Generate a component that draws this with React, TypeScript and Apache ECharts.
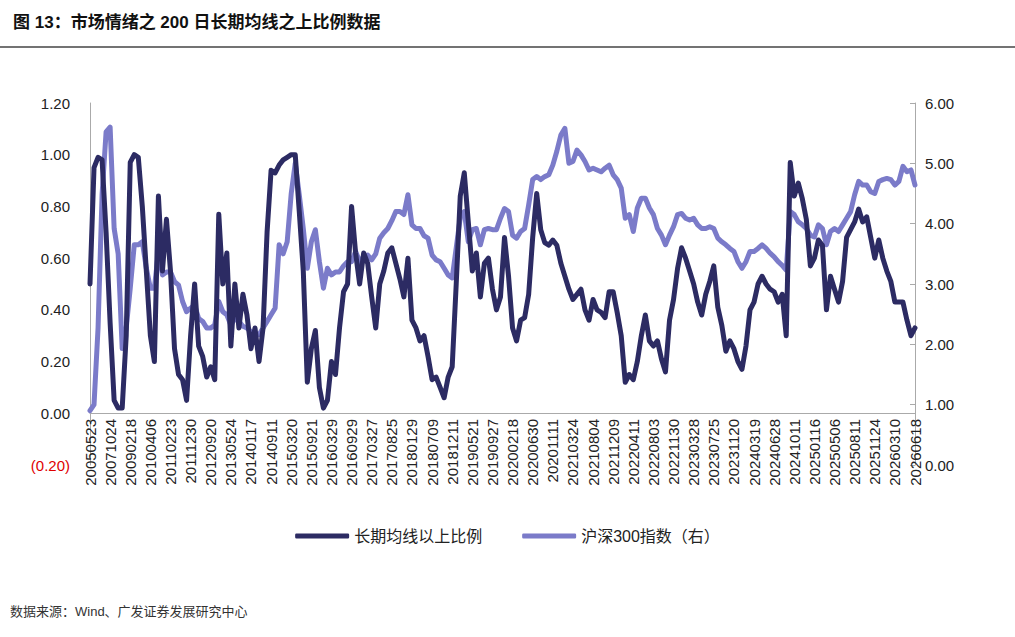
import React, { useEffect, useRef } from 'react';
import * as echarts from 'echarts';

// tick dates shown on the x axis, one every 5 points
const tickDates = [
  '20050523', '20071024', '20090218', '20100406', '20110223', '20111230', '20120920',
  '20130524', '20140117', '20140911', '20150320', '20150921', '20160329', '20160929',
  '20170327', '20170825', '20180129', '20180709', '20181211', '20190521', '20190927',
  '20200218', '20200630', '20201111', '20210324', '20210804', '20211209', '20220411',
  '20220803', '20221130', '20230328', '20230725', '20231120', '20240319', '20240628',
  '20241011', '20250116', '20250506', '20250811', '20251124', '20260310', '20260618',
];

// 长期均线以上比例 (left axis)
const ratioValues = [
  0.50, 0.95, 0.99, 0.98, 0.70, 0.35, 0.05, 0.02, 0.02, 0.30,
  0.97, 1.00, 0.99, 0.80, 0.55, 0.30, 0.20, 0.84, 0.55, 0.75,
  0.55, 0.25, 0.15, 0.13, 0.05, 0.30, 0.50, 0.26, 0.22, 0.14,
  0.18, 0.13, 0.77, 0.50, 0.62, 0.26, 0.50, 0.33, 0.46, 0.38,
  0.25, 0.33, 0.20, 0.33, 0.70, 0.94, 0.93, 0.96, 0.98, 0.99,
  1.00, 1.00, 0.78, 0.55, 0.12, 0.25, 0.32, 0.10, 0.02, 0.05,
  0.20, 0.15, 0.33, 0.47, 0.50, 0.80, 0.62, 0.50, 0.62, 0.58,
  0.45, 0.33, 0.50, 0.55, 0.62, 0.64, 0.58, 0.52, 0.45, 0.60,
  0.36, 0.33, 0.28, 0.30, 0.22, 0.13, 0.14, 0.10, 0.06, 0.14,
  0.18, 0.50, 0.84, 0.93, 0.74, 0.55, 0.62, 0.45, 0.58, 0.60,
  0.48, 0.40, 0.45, 0.68, 0.53, 0.33, 0.28, 0.36, 0.37, 0.46,
  0.68, 0.85, 0.71, 0.66, 0.65, 0.67, 0.65, 0.58, 0.53, 0.48,
  0.44, 0.46, 0.48, 0.40, 0.36, 0.44, 0.40, 0.39, 0.37, 0.47,
  0.47, 0.39, 0.30, 0.12, 0.15, 0.13, 0.20, 0.30, 0.38, 0.28,
  0.26, 0.28, 0.21, 0.16, 0.36, 0.44, 0.56, 0.64, 0.60, 0.55,
  0.50, 0.43, 0.38, 0.46, 0.51, 0.57, 0.41, 0.34, 0.24, 0.28,
  0.25, 0.20, 0.17, 0.26, 0.40, 0.43, 0.50, 0.53, 0.50, 0.48,
  0.47, 0.43, 0.46, 0.30, 0.97, 0.84, 0.89, 0.83, 0.75, 0.57,
  0.60, 0.67, 0.65, 0.40, 0.53, 0.48, 0.43, 0.51, 0.68, 0.71,
  0.74, 0.79, 0.74, 0.76, 0.68, 0.60, 0.67, 0.60, 0.55, 0.51,
  0.43, 0.43, 0.43, 0.36, 0.30, 0.33,
];

// 沪深300指数 (right axis)
const indexValues = [
  0.90, 1.00, 2.27, 4.48, 5.52, 5.60, 3.92, 3.50, 1.93, 2.27,
  2.93, 3.65, 3.65, 3.70, 3.26, 2.93, 2.93, 3.54, 3.15, 3.20,
  3.20, 3.04, 2.98, 2.71, 2.54, 2.60, 2.65, 2.43, 2.38, 2.27,
  2.27, 2.32, 2.71, 2.54, 2.49, 2.32, 2.43, 2.38, 2.30, 2.27,
  2.21, 2.16, 2.16, 2.27, 2.38, 2.49, 2.60, 3.65, 3.50, 3.70,
  4.50, 5.00, 4.48, 3.92, 3.26, 3.70, 3.90, 3.37, 2.93, 3.26,
  3.15, 3.20, 3.20, 3.30, 3.37, 3.37, 3.54, 3.37, 3.45, 3.48,
  3.40, 3.50, 3.76, 3.85, 3.92, 4.05, 4.20, 4.20, 4.15, 4.48,
  3.98, 3.92, 3.92, 3.80, 3.76, 3.48, 3.40, 3.37, 3.26, 3.15,
  3.10, 3.60, 4.10, 4.20, 3.70, 3.90, 3.92, 3.65, 3.90, 3.92,
  3.90, 3.90, 4.09, 4.25, 4.20, 3.81, 3.76, 3.87, 3.92, 4.31,
  4.73, 4.78, 4.73, 4.78, 4.81, 4.97, 5.20, 5.47, 5.58, 5.00,
  5.03, 5.22, 5.14, 5.03, 4.89, 4.92, 4.89, 4.86, 4.92, 4.97,
  4.81, 4.73, 4.59, 4.09, 4.15, 3.87, 4.26, 4.42, 4.42, 4.26,
  4.15, 3.92, 3.81, 3.65, 3.81, 3.95, 4.15, 4.17, 4.09, 4.06,
  4.09, 3.98, 3.92, 3.92, 3.95, 3.92, 3.76, 3.70, 3.65, 3.59,
  3.54, 3.37, 3.26, 3.37, 3.54, 3.54, 3.59, 3.65, 3.59, 3.51,
  3.45, 3.37, 3.31, 3.23, 4.20, 4.15, 4.03, 3.98, 3.92, 3.81,
  3.78, 3.98, 3.92, 3.65, 3.87, 3.92, 3.87, 3.98, 4.09, 4.20,
  4.48, 4.70, 4.64, 4.64, 4.53, 4.50, 4.70, 4.73, 4.75, 4.73,
  4.64, 4.70, 4.95, 4.86, 4.89, 4.64,
];

const leftTicks = { min: -0.2, max: 1.2, interval: 0.2 };
const rightTicks = { min: 0, max: 6, interval: 1 };

const DARK = '#2c2b63';
const LIGHT = '#7b7bc9';

const categories = ratioValues.map((_, i) =>
  i % 5 === 0 ? tickDates[i / 5] : `${tickDates[Math.floor(i / 5)]}_${i % 5}`
);

const fmt = (v: number) => (v < 0 ? `{neg|(${Math.abs(v).toFixed(2)})}` : v.toFixed(2));

const App = () => {
  const ref = useRef<HTMLDivElement>(null);

  useEffect(() => {
    if (!ref.current) return;
    const chart = echarts.init(ref.current, undefined, { renderer: 'svg' });
    const font = "'Liberation Sans', 'Noto Sans CJK SC', sans-serif";
    chart.setOption({
      animation: false,
      textStyle: { fontFamily: font },
      title: {
        text: '图 13：市场情绪之 200 日长期均线之上比例数据',
        left: 8,
        top: 9,
        textStyle: { fontSize: 17, fontWeight: 'bold', color: '#111', fontFamily: font },
      },
      graphic: [
        { type: 'line', shape: { x1: 0, y1: 47, x2: 1015, y2: 47 }, style: { stroke: '#444', lineWidth: 1.5 } },
        {
          type: 'text', left: 10, top: 605,
          style: { text: '数据来源：Wind、广发证券发展研究中心', fontSize: 13, fill: '#333', fontFamily: font },
        },
      ],
      legend: {
        top: 523,
        left: 'center',
        itemGap: 40,
        itemWidth: 54,
        itemHeight: 5,
        icon: 'roundRect',
        textStyle: { fontSize: 16, color: '#222' },
        data: ['长期均线以上比例', '沪深300指数（右）'],
      },
      grid: { left: 90, right: 100, top: 103, bottom: 172 },
      xAxis: {
        type: 'category',
        data: categories,
        boundaryGap: false,
        axisLine: { onZero: true, lineStyle: { color: '#aaa' } },
        axisTick: { show: false },
        axisLabel: { interval: 4, rotate: 90, fontSize: 15, color: '#222', margin: -46 },
      },
      yAxis: [
        {
          type: 'value', ...leftTicks,
          splitLine: { show: false },
          axisLine: { show: true, lineStyle: { color: '#aaa' } },
          axisTick: { show: false },
          axisLabel: {
            fontSize: 15, color: '#222', margin: 20,
            formatter: fmt,
            rich: { neg: { color: '#e00000', fontSize: 15 } },
          },
        },
        {
          type: 'value', ...rightTicks,
          splitLine: { show: false },
          axisLine: { show: true, lineStyle: { color: '#aaa' } },
          axisTick: { show: true, inside: true, length: 5, lineStyle: { color: '#aaa' } },
          axisLabel: { fontSize: 15, color: '#222', margin: 10, formatter: (v: number) => v.toFixed(2) },
        },
      ],
      series: [
        {
          name: '长期均线以上比例', type: 'line', yAxisIndex: 0, data: ratioValues,
          showSymbol: false, z: 3,
          lineStyle: { color: DARK, width: 5, cap: 'round', join: 'round' }, itemStyle: { color: DARK },
        },
        {
          name: '沪深300指数（右）', type: 'line', yAxisIndex: 1, data: indexValues,
          showSymbol: false, z: 2,
          lineStyle: { color: LIGHT, width: 5, cap: 'round', join: 'round' }, itemStyle: { color: LIGHT },
        },
      ],
    });
    return () => chart.dispose();
  }, []);

  return (
    <div
      ref={ref}
      style={{ position: 'fixed', left: 0, top: 0, width: 1015, height: 637, background: '#fff' }}
    />
  );
};

export default App;
